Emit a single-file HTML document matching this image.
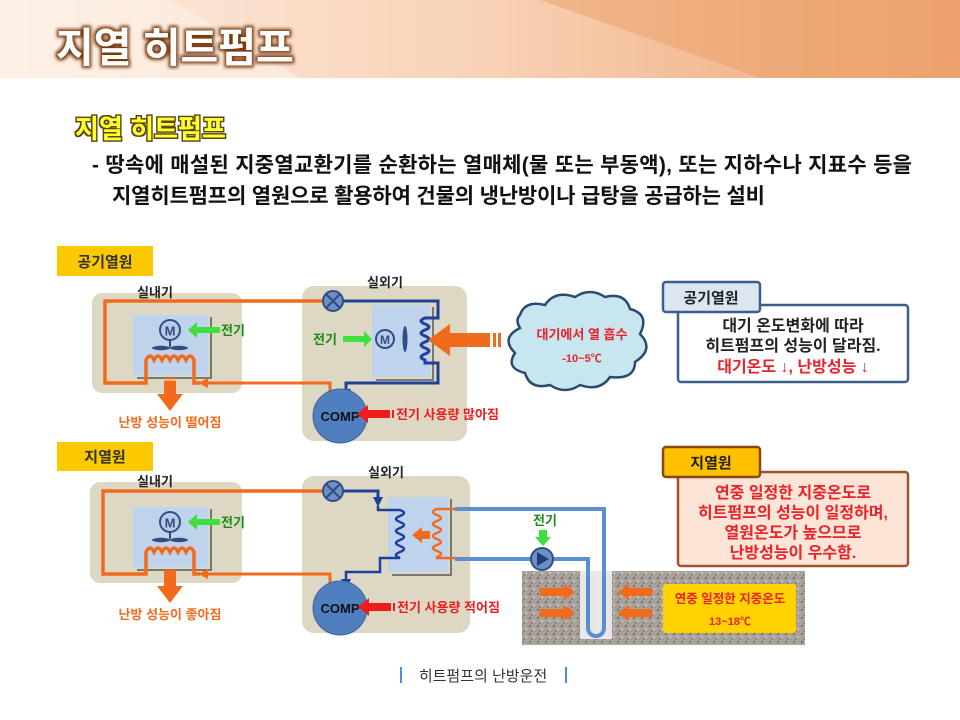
<!DOCTYPE html>
<html><head><meta charset="utf-8"><style>
html,body{margin:0;padding:0;background:#fff;}
svg{display:block;font-family:"Liberation Sans","Noto Sans CJK KR",sans-serif;}
</style></head><body>
<svg width="960" height="720" viewBox="0 0 960 720" xmlns="http://www.w3.org/2000/svg">
<defs>
<linearGradient id="hg" x1="0" x2="1" y1="0" y2="0">
<stop offset="0" stop-color="#fdeee4"/><stop offset="0.5" stop-color="#f8d2b6"/><stop offset="1" stop-color="#eea572"/>
</linearGradient>
<pattern id="grav" width="8" height="8" patternUnits="userSpaceOnUse">
<rect width="8" height="8" fill="#a8a29a"/><circle cx="2" cy="2" r="1.2" fill="#7d776f"/><circle cx="6" cy="5" r="1" fill="#d2cdc4"/><circle cx="4" cy="7" r="0.8" fill="#6f6a63"/>
</pattern>
<filter id="glow"><feMorphology operator="dilate" radius="2" in="SourceAlpha" result="d"/><feFlood flood-color="#7a3a10"/><feComposite in2="d" operator="in" result="o"/><feGaussianBlur in="o" stdDeviation="1.5" result="b"/><feMerge><feMergeNode in="b"/><feMergeNode in="SourceGraphic"/></feMerge></filter>
<filter id="glow2"><feMorphology operator="dilate" radius="1.5" in="SourceAlpha" result="d"/><feFlood flood-color="#5a4a10"/><feComposite in2="d" operator="in" result="o"/><feMerge><feMergeNode in="o"/><feMergeNode in="SourceGraphic"/></feMerge></filter>
<marker id="ao" markerUnits="userSpaceOnUse" markerWidth="10" markerHeight="10" refX="3" refY="5" orient="auto"><path d="M0,0L10,5L0,10z" fill="#f26b1d"/></marker>
<marker id="ab" markerUnits="userSpaceOnUse" markerWidth="10" markerHeight="10" refX="3" refY="5" orient="auto"><path d="M0,0L10,5L0,10z" fill="#1f3f99"/></marker>
</defs>
<!-- header -->
<rect x="0" y="0" width="960" height="78" fill="url(#hg)"/>
<polygon points="0,0 170,0 300,78 0,78" fill="#fdf1e8" opacity="0.6"/>
<polygon points="540,0 960,0 960,78 760,78" fill="#ec9e66" opacity="0.5"/>
<text x="56" y="62" font-size="41" font-weight="bold" fill="#fff" filter="url(#glow)">지열 히트펌프</text>
<text x="75" y="138" font-size="26" font-weight="bold" fill="#ffff30" filter="url(#glow2)">지열 히트펌프</text>
<text x="92" y="172" font-size="21" font-weight="bold" fill="#111" textLength="820">- 땅속에 매설된 지중열교환기를 순환하는 열매체(물 또는 부동액), 또는 지하수나 지표수 등을</text>
<text x="112" y="203" font-size="21" font-weight="bold" fill="#111" textLength="653">지열히트펌프의 열원으로 활용하여 건물의 냉난방이나 급탕을 공급하는 설비</text>

<!-- ===== Section 1 ===== -->
<rect x="57" y="246" width="96" height="30" fill="#fcc800"/>
<text x="105" y="267" font-size="15" font-weight="bold" fill="#333" text-anchor="middle">공기열원</text>
<rect x="92" y="293" width="150" height="100" rx="10" fill="#ddd8c4"/>
<text x="155" y="297" font-size="13" font-weight="bold" fill="#222" text-anchor="middle">실내기</text>
<rect x="302" y="286" width="165" height="155" rx="12" fill="#ddd8c4"/>
<text x="385" y="287" font-size="13" font-weight="bold" fill="#222" text-anchor="middle">실외기</text>
<polyline points="211,317 211,378 137,378" fill="none" stroke="#777" stroke-width="2"/>
<rect x="133" y="315" width="75" height="60" fill="#c0d3ec"/>
<circle cx="170" cy="330" r="10" fill="#b9cde8" stroke="#2e4e86" stroke-width="2"/>
<text x="170" y="335.5" font-size="13" font-weight="bold" fill="#2e4e86" text-anchor="middle">M</text>
<line x1="170" y1="340" x2="170" y2="347" stroke="#2e4e86" stroke-width="2"/>
<ellipse cx="161" cy="348" rx="9" ry="2.2" fill="#2e4e86"/><ellipse cx="179" cy="348" rx="9" ry="2.2" fill="#2e4e86"/>
<path d="M322,301 H105 V383 H146 V360 q4,-8 8,0 q4,-8 8,0 q4,-8 8,0 q4,-8 8,0 q4,-8 8,0 q4,-8 8,0 V383 H200" fill="none" stroke="#f26b1d" stroke-width="3.5"/>
<path d="M330,400 V383 H205" fill="none" stroke="#f26b1d" stroke-width="3" marker-end="url(#ao)"/>
<rect x="164" y="378" width="12" height="18" fill="#f26b1d"/>
<polygon points="157,394 183,394 170,411" fill="#f26b1d"/>
<line x1="164" y1="380" x2="176" y2="380" stroke="#fff" stroke-width="1"/>
<text x="170" y="427" font-size="13" font-weight="bold" fill="#f26b1d" text-anchor="middle">난방 성능이 떨어짐</text>
<polygon points="188,330 197,322 197,327 220,327 220,333 197,333 197,338" fill="#3ee03e"/>
<text x="221" y="335" font-size="13" font-weight="bold" fill="#1a8a1a">전기</text>
<polyline points="433,307 433,380 376,380" fill="none" stroke="#777" stroke-width="2"/>
<rect x="372" y="305" width="58" height="72" fill="#c0d3ec"/>
<path d="M343,301 H438 V318 H425 q-8,3 0,6 q8,3 0,6 q-8,3 0,6 q8,3 0,6 q-8,3 0,6 q8,3 0,6 q-8,3 0,6 V363 H438 V383 H346 V392" fill="none" stroke="#1f3f99" stroke-width="3" marker-end="url(#ab)"/>
<circle cx="333" cy="301" r="10" fill="#6e8fbf" stroke="#2e4e86" stroke-width="2"/>
<path d="M326,294 L340,308 M340,294 L326,308" stroke="#2e4e86" stroke-width="2"/>
<circle cx="385" cy="339" r="9" fill="#b9cde8" stroke="#2e4e86" stroke-width="2"/>
<text x="385" y="344" font-size="12" font-weight="bold" fill="#2e4e86" text-anchor="middle">M</text>
<ellipse cx="405" cy="339" rx="2.5" ry="13" fill="#2e4e86"/>
<polygon points="372,339 364,331 364,336 343,336 343,342 364,342 364,347" fill="#3ee03e"/>
<text x="313" y="344" font-size="13" font-weight="bold" fill="#1a8a1a">전기</text>
<polygon points="428,340 450,324 450,333 490,333 490,347 450,347 450,356" fill="#f26b1d"/>
<rect x="493" y="333" width="3" height="14" fill="#f26b1d"/><rect x="498" y="333" width="3" height="14" fill="#f26b1d"/>
<rect x="330" y="393" width="20" height="10" fill="#4f7fbf"/>
<circle cx="340" cy="416" r="27" fill="#4f7fbf" stroke="#3a67a5" stroke-width="1"/>
<text x="340" y="421" font-size="13" font-weight="bold" fill="#111" text-anchor="middle">COMP</text>
<polygon points="357,414 368,405 368,410 390,410 390,418 368,418 368,423" fill="#ee1c1c"/>
<rect x="392" y="410" width="2" height="8" fill="#ee1c1c"/>
<text x="396" y="419" font-size="13" font-weight="bold" fill="#ee1c1c">전기 사용량 많아짐</text>
<path d="M520,315 q5,-15 25,-10 q10,-15 30,-8 q15,-10 30,0 q20,-5 25,12 q20,5 10,25 q15,15 -5,28 q0,18 -25,15 q-10,15 -30,8 q-15,10 -30,0 q-20,5 -25,-12 q-20,-5 -10,-20 q-15,-15 5,-25 q-5,-8 0,-13z" fill="#c8e6f0" stroke="#2a4a6e" stroke-width="2.5"/>
<text x="582" y="339" font-size="13" font-weight="bold" fill="#e8232a" text-anchor="middle">대기에서 열 흡수</text>
<text x="582" y="362" font-size="11" font-weight="bold" fill="#e8232a" text-anchor="middle">-10~5℃</text>
<rect x="678" y="305" width="230" height="77" rx="3" fill="#fff" stroke="#3a5f8f" stroke-width="2.5"/>
<rect x="663" y="282" width="97" height="30" rx="3" fill="#dce6f2" stroke="#3a5f8f" stroke-width="2.5"/>
<text x="711" y="303" font-size="15" font-weight="bold" fill="#222" text-anchor="middle">공기열원</text>
<text x="793" y="331" font-size="16" font-weight="bold" fill="#222" text-anchor="middle">대기 온도변화에 따라</text>
<text x="793" y="351" font-size="16" font-weight="bold" fill="#222" text-anchor="middle">히트펌프의 성능이 달라짐.</text>
<text x="793" y="372" font-size="16" font-weight="bold" fill="#e8232a" text-anchor="middle">대기온도 ↓, 난방성능 ↓</text>

<!-- ===== Section 2 ===== -->
<rect x="57" y="442" width="96" height="29" fill="#fcc800"/>
<text x="105" y="462" font-size="15" font-weight="bold" fill="#333" text-anchor="middle">지열원</text>
<rect x="90" y="482" width="152" height="101" rx="10" fill="#ddd8c4"/>
<text x="155" y="486" font-size="13" font-weight="bold" fill="#222" text-anchor="middle">실내기</text>
<rect x="302" y="476" width="168" height="157" rx="12" fill="#ddd8c4"/>
<text x="386" y="477" font-size="13" font-weight="bold" fill="#222" text-anchor="middle">실외기</text>
<polyline points="211,509 211,570 137,570" fill="none" stroke="#777" stroke-width="2"/>
<rect x="133" y="507" width="75" height="60" fill="#c0d3ec"/>
<circle cx="170" cy="522" r="10" fill="#b9cde8" stroke="#2e4e86" stroke-width="2"/>
<text x="170" y="527.5" font-size="13" font-weight="bold" fill="#2e4e86" text-anchor="middle">M</text>
<line x1="170" y1="532" x2="170" y2="539" stroke="#2e4e86" stroke-width="2"/>
<ellipse cx="161" cy="540" rx="9" ry="2.2" fill="#2e4e86"/><ellipse cx="179" cy="540" rx="9" ry="2.2" fill="#2e4e86"/>
<path d="M322,491 H103 V574 H146 V552 q4,-8 8,0 q4,-8 8,0 q4,-8 8,0 q4,-8 8,0 q4,-8 8,0 q4,-8 8,0 V574 H200" fill="none" stroke="#f26b1d" stroke-width="3.5"/>
<path d="M330,590 V574 H205" fill="none" stroke="#f26b1d" stroke-width="3" marker-end="url(#ao)"/>
<rect x="164" y="570" width="12" height="18" fill="#f26b1d"/>
<polygon points="157,586 183,586 170,603" fill="#f26b1d"/>
<text x="170" y="619" font-size="13" font-weight="bold" fill="#f26b1d" text-anchor="middle">난방 성능이 좋아짐</text>
<polygon points="188,522 197,514 197,519 220,519 220,525 197,525 197,530" fill="#3ee03e"/>
<text x="221" y="527" font-size="13" font-weight="bold" fill="#1a8a1a">전기</text>
<polyline points="451,499 451,575 392,575" fill="none" stroke="#777" stroke-width="2"/>
<rect x="388" y="497" width="60" height="75" fill="#c0d3ec"/>
<path d="M343,491 H378 V500" fill="none" stroke="#1f3f99" stroke-width="3" marker-end="url(#ab)"/>
<path d="M378,506 V510 H400 q8,3 0,6 q-8,3 0,6 q8,3 0,6 q-8,3 0,6 q8,3 0,6 q-8,3 0,6 q8,3 0,6 q-8,3 0,6 V558 H380 V572 H346 V582" fill="none" stroke="#1f3f99" stroke-width="2.5" marker-end="url(#ab)"/>
<path d="M455,509 H437 q-8,3 0,6 q8,3 0,6 q-8,3 0,6 q8,3 0,6 q-8,3 0,6 q8,3 0,6 q-8,3 0,6 q8,3 0,6 V558 H455" fill="none" stroke="#f26b1d" stroke-width="2.5"/>
<polygon points="412,535 422,527 422,531 430,531 430,539 422,539 422,543" fill="#f26b1d"/>
<circle cx="333" cy="491" r="10" fill="#6e8fbf" stroke="#2e4e86" stroke-width="2"/>
<path d="M326,484 L340,498 M340,484 L326,498" stroke="#2e4e86" stroke-width="2"/>
<rect x="330" y="583" width="20" height="10" fill="#4f7fbf"/>
<circle cx="340" cy="608" r="27" fill="#4f7fbf" stroke="#3a67a5"/>
<text x="340" y="613" font-size="13" font-weight="bold" fill="#111" text-anchor="middle">COMP</text>
<polygon points="358,607 369,598 369,603 391,603 391,611 369,611 369,616" fill="#ee1c1c"/>
<rect x="393" y="603" width="2" height="8" fill="#ee1c1c"/>
<text x="397" y="612" font-size="13" font-weight="bold" fill="#ee1c1c">전기 사용량 적어짐</text>
<rect x="522" y="571" width="283" height="74" fill="url(#grav)"/>
<rect x="580" y="571" width="32" height="68" fill="#eef0f2" opacity="0.9"/>
<path d="M455,509 H604 V628 a8,8 0 0 1 -16,0 V559 H455" fill="none" stroke="#5a8fd0" stroke-width="4"/>
<circle cx="542" cy="559" r="11" fill="#6e8fbf" stroke="#2e4e86" stroke-width="2"/>
<polygon points="537,552 549,559 537,566" fill="#1f3f7a"/>
<text x="545" y="525" font-size="13" font-weight="bold" fill="#1a8a1a" text-anchor="middle">전기</text>
<polygon points="539,530 547,530 547,537 551,537 543,546 535,537 539,537" fill="#3ee03e"/>
<polygon points="575,592 564,584 564,588 540,588 540,596 564,596 564,600" fill="#f26b1d"/>
<polygon points="575,613 564,605 564,609 540,609 540,617 564,617 564,621" fill="#f26b1d"/>
<polygon points="618,592 629,584 629,588 652,588 652,596 629,596 629,600" fill="#f26b1d"/>
<polygon points="618,613 629,605 629,609 652,609 652,617 629,617 629,621" fill="#f26b1d"/>
<rect x="663" y="584" width="133" height="49" rx="3" fill="#ffd200"/>
<text x="730" y="603" font-size="12.5" font-weight="bold" fill="#e8232a" text-anchor="middle">연중 일정한 지중온도</text>
<text x="730" y="625" font-size="11" font-weight="bold" fill="#e8232a" text-anchor="middle">13~18℃</text>
<rect x="678" y="472" width="230" height="94" rx="3" fill="#fce4d6" stroke="#a0522d" stroke-width="2.5"/>
<rect x="663" y="447" width="97" height="30" rx="3" fill="#ffc000" stroke="#8b4513" stroke-width="2.5"/>
<text x="711" y="468" font-size="15" font-weight="bold" fill="#222" text-anchor="middle">지열원</text>
<text x="793" y="498" font-size="16" font-weight="bold" fill="#e8232a" text-anchor="middle">연중 일정한 지중온도로</text>
<text x="793" y="518" font-size="16" font-weight="bold" fill="#e8232a" text-anchor="middle">히트펌프의 성능이 일정하며,</text>
<text x="793" y="538" font-size="16" font-weight="bold" fill="#e8232a" text-anchor="middle">열원온도가 높으므로</text>
<text x="793" y="558" font-size="16" font-weight="bold" fill="#e8232a" text-anchor="middle">난방성능이 우수함.</text>
<rect x="400" y="667" width="2" height="16" fill="#4a8fd8"/>
<rect x="565" y="667" width="2" height="16" fill="#4a8fd8"/>
<text x="483" y="681" font-size="15" fill="#333" text-anchor="middle">히트펌프의 난방운전</text>
</svg>
</body></html>
